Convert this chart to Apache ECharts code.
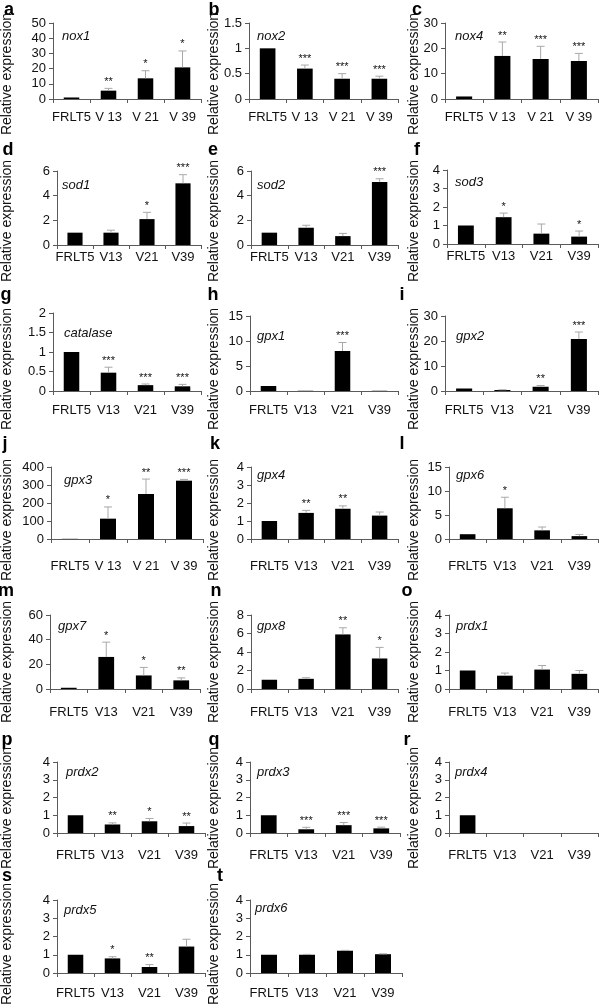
<!DOCTYPE html>
<html><head><meta charset="utf-8">
<script src="https://cdn.jsdelivr.net/npm/echarts@6/dist/echarts.min.js"></script>
<style>html,body{margin:0;padding:0;background:#fff}#chart{width:608px;height:1006px}</style>
</head><body><div id="chart"></div>
<script>
// ---------------- DATA ----------------
const panelLetters = ['a','b','c','d','e','f','g','h','i','j','k','l','m','n','o','p','q','r','s','t'];
const geneNames = ['nox1','nox2','nox4','sod1','sod2','sod3','catalase','gpx1','gpx2','gpx3','gpx4','gpx6','gpx7','gpx8','prdx1','prdx2','prdx3','prdx4','prdx5','prdx6'];
const categoriesSpaced = ['FRLT5','V 13','V 21','V 39'];
const categoriesPlain = ['FRLT5','V13','V21','V39'];
const yTitle = 'Relative expression';
const yMax = [50,1.5,30, 6,6,4, 2,15,30, 400,4,15, 60,8,4, 4,4,4, 4,4];
const yInterval = [10,0.5,10, 2,2,1, 0.5,5,10, 100,1,5, 20,2,1, 1,1,1, 1,1];
const meanValues = [
  [1,5.5,13.6,20.8],
  [1,0.6,0.4,0.4],
  [1,17,15.8,15],
  [1,1,2.1,5],
  [1,1.4,0.72,5.1],
  [1,1.45,0.56,0.4],
  [1,0.47,0.15,0.12],
  [1,0.05,8,0.05],
  [1,0.4,1.7,20.8],
  [1,113,250,324],
  [1,1.45,1.68,1.3],
  [1,6.4,1.8,0.6],
  [1,26,11,7],
  [1,1.1,5.9,3.3],
  [1,0.72,1.05,0.82],
  [1,0.48,0.66,0.39],
  [1,0.21,0.44,0.26],
  [1,0,0,0],
  [1,0.8,0.33,1.45],
  [1,1,1.22,1.03]
];
const errorValues = [
  [0,1.5,5,10.8],
  [0,0.07,0.1,0.05],
  [0,5.5,5,3],
  [0,0.2,0.55,0.7],
  [0,0.2,0.22,0.27],
  [0,0.22,0.52,0.3],
  [0,0.14,0.03,0.05],
  [0,0,1.7,0],
  [0,0.1,0.5,2.8],
  [0,65,83,7],
  [0,0.14,0.16,0.2],
  [0,2.3,0.7,0.35],
  [0,12,6.5,2],
  [0,0.12,0.72,1.2],
  [0,0.14,0.22,0.18],
  [0,0.09,0.16,0.17],
  [0,0.11,0.15,0.07],
  [0,0,0,0],
  [0,0.09,0.13,0.4],
  [0,0.02,0.02,0.02]
];
const starLabels = [
  ['','**','*','*'],
  ['','***','***','***'],
  ['','**','***','***'],
  ['','','*','***'],
  ['','','','***'],
  ['','*','','*'],
  ['','***','***','***'],
  ['','','***',''],
  ['','','**','***'],
  ['','*','**','***'],
  ['','**','**',''],
  ['','*','',''],
  ['','*','*','**'],
  ['','','**','*'],
  ['','','',''],
  ['','**','*','**'],
  ['','***','***','***'],
  ['','','',''],
  ['','*','**',''],
  ['','','','']
];
const spacedPanels = [0,1,2,9];

// ---------------- LAYOUT ----------------
// [left, right, top, zeroY]
const gridBoxes = [
  [53,201,23,99],[249,398,23,99],[445,598,23,99],
  [57,201,171,245],[251,398,171,245],[447,598,170,244],
  [53,201,313,391],[250,398,316,391],[445,598,316,391],
  [51,203,467,539],[251,398,467,539],[449,598,467,539],
  [50,200,615,689],[251,398,615,689],[449,598,615,689],
  [57,205,762,833],[250,400,762,833],[449,598,762,833],
  [57,205,900,973],[250,402,900,973]
];
const rowLabelGap = [18,12,19,27,23,22,20];
const rowTitleY = [74,221,369,520,662,808,944];
const colTitleX = [7,214,414];
const letterPos = [[9,15],[214,15],[417,15],[8,155],[213,155],[417,155],[6,300],[213,300],[402,300],
  [5,449],[215,449],[402,449],[6,596],[216,596],[407,596],[7,745],[214,745],[407,745],[7,881],[220,881]];
const genePos = [[62,36],[257,36],[455,36],[62,185],[257,185],[455,182],[64,333],[257,336],[456,336],
  [64,480],[257,475],[456,475],[58,626],[257,626],[456,626],[66,772],[257,772],[455,772],[64,910],[255,908]];

const FONT = '"Liberation Sans", Arial, Helvetica, sans-serif';
const AXIS_COLOR = '#5a5a5a';

const grids = [], xAxes = [], yAxes = [], series = [], graphics = [];
panelLetters.forEach((letter, p) => {
  const [l, r, t, z] = gridBoxes[p];
  const row = Math.floor(p / 3), col = p % 3;
  grids.push({left: l, top: t, width: r - l, height: z - t, outerBoundsMode: 'none', containLabel: false});
  xAxes.push({
    type: 'category', gridIndex: p,
    data: spacedPanels.includes(p) ? categoriesSpaced : categoriesPlain,
    axisLine: {show: true, lineStyle: {color: AXIS_COLOR, width: 1}},
    axisTick: {show: true, alignWithLabel: false, interval: 0, length: 4, inside: false, lineStyle: {color: AXIS_COLOR}},
    axisLabel: {interval: 0, fontSize: 13, color: '#111', fontFamily: FONT, margin: rowLabelGap[row] - 6.5, hideOverlap: false},
    splitLine: {show: false}
  });
  yAxes.push({
    type: 'value', gridIndex: p, min: 0, max: yMax[p], interval: yInterval[p],
    axisLine: {show: true, lineStyle: {color: AXIS_COLOR, width: 1}},
    axisTick: {show: true, length: 4, inside: false, lineStyle: {color: AXIS_COLOR}},
    axisLabel: {fontSize: 13, color: '#111', fontFamily: FONT, margin: 7},
    splitLine: {show: false}
  });
  series.push({
    type: 'bar', xAxisIndex: p, yAxisIndex: p, barWidth: '42%',
    itemStyle: {color: '#000'}, data: meanValues[p], silent: true, z: 2
  });
  const errData = meanValues[p].map((m, i) => [i, m, errorValues[p][i]]);
  series.push({
    type: 'custom', xAxisIndex: p, yAxisIndex: p, z: 3, silent: true,
    data: errData,
    renderItem: (params, api) => {
      const xi = api.value(0), m = api.value(1), e = api.value(2);
      const base = api.coord([xi, m]);
      const top = api.coord([xi, m + e]);
      const children = [];
      if (e > 0) {
        children.push({type: 'line', shape: {x1: base[0], y1: base[1], x2: top[0], y2: top[1]},
          style: {stroke: '#a8a8a8', lineWidth: 1}});
        children.push({type: 'line', shape: {x1: top[0] - 4, y1: top[1], x2: top[0] + 4, y2: top[1]},
          style: {stroke: '#a8a8a8', lineWidth: 1}});
      }
      const s = starLabels[p][params.dataIndex];
      if (s) {
        children.push({type: 'text', x: top[0], y: top[1] - 1,
          style: {text: s, fill: '#111', font: '11px ' + FONT, align: 'center', verticalAlign: 'bottom'}});
      }
      return {type: 'group', children};
    }
  });
  graphics.push({type: 'text', x: letterPos[p][0], y: letterPos[p][1] + 4,
    style: {text: letter, font: 'bold 18px ' + FONT, fill: '#000', align: 'center', verticalAlign: 'bottom'}});
  graphics.push({type: 'text', x: genePos[p][0], y: genePos[p][1],
    style: {text: geneNames[p], font: 'italic 13px ' + FONT, fill: '#111', align: 'left', verticalAlign: 'middle'}});
  graphics.push({type: 'text', x: colTitleX[col], y: rowTitleY[row], rotation: Math.PI / 2,
    style: {text: yTitle, font: '14px ' + FONT, fill: '#111', align: 'center', verticalAlign: 'middle'}});
});

const chart = echarts.init(document.getElementById('chart'), null, {renderer: 'canvas'});
chart.setOption({
  animation: false,
  backgroundColor: '#fff',
  grid: grids, xAxis: xAxes, yAxis: yAxes, series: series,
  graphic: {elements: graphics}
});
</script></body></html>
